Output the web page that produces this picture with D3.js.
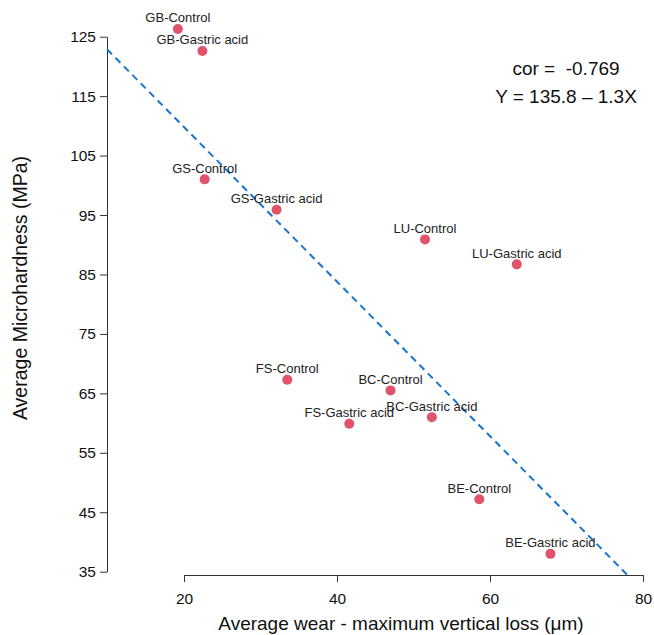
<!DOCTYPE html>
<html>
<head>
<meta charset="utf-8">
<script src="https://cdn.jsdelivr.net/npm/d3@7"></script>
<style>
  body { margin: 0; background: #fff; }
  svg { font-family: "Liberation Sans", Arial, sans-serif; }
</style>
</head>
<body>
<svg id="chart" width="654" height="635"></svg>
<script>
// groups and their measured values
const labels = ['GB-Control', 'GB-Gastric acid', 'GS-Control', 'GS-Gastric acid',
  'LU-Control', 'LU-Gastric acid', 'FS-Control', 'FS-Gastric acid',
  'BC-Control', 'BC-Gastric acid', 'BE-Control', 'BE-Gastric acid']
const wear = [19.2, 22.4, 22.7, 32.1, 51.5, 63.5, 33.5, 41.6, 47.0, 52.4, 58.6, 67.9]
const hardness = [126.3, 122.6, 101.0, 95.9, 90.9, 86.7, 67.3, 59.9, 65.5, 61.0, 47.2, 38.0]

const xTicks = [20, 40, 60, 80]
const yTicks = [35, 45, 55, 65, 75, 85, 95, 105, 115, 125]

const intercept = 135.8
const slope = -1.3
const corText = 'cor =  -0.769'
const eqText = 'Y = 135.8 \u2013 1.3X'

const svg = d3.select('#chart')

const plotLeft = 107
const plotBottom = 575

const x = d3.scaleLinear().domain([20, 80]).range([184, 643])
const y = d3.scaleLinear().domain([35, 125]).range([571.7, 36.7])

// y axis
const yAxis = svg.append('g')
  .attr('transform', `translate(${plotLeft},0)`)
  .call(d3.axisLeft(y).tickValues(yTicks).tickSize(7).tickSizeOuter(0).tickPadding(4))
yAxis.selectAll('text').style('font-size', '15.5px').attr('fill', '#111')

// x axis
const xAxis = svg.append('g')
  .attr('transform', `translate(0,${plotBottom})`)
  .call(d3.axisBottom(x).tickValues(xTicks).tickSize(7).tickSizeOuter(0).tickPadding(11))
xAxis.selectAll('text').style('font-size', '15.5px').attr('fill', '#111')

svg.selectAll('.domain, .tick line').attr('stroke', '#333')

// axis titles
svg.append('text')
  .attr('x', 401)
  .attr('y', 630)
  .attr('text-anchor', 'middle')
  .style('font-size', '19px')
  .attr('fill', '#111')
  .text('Average wear - maximum vertical loss (\u03bcm)')

svg.append('text')
  .attr('transform', 'translate(27,288) rotate(-90)')
  .attr('text-anchor', 'middle')
  .style('font-size', '19.5px')
  .attr('fill', '#111')
  .text('Average Microhardness (MPa)')

// regression line, clipped to the plot region
const x0 = x.invert(plotLeft)
const yEnd = y.invert(plotBottom)
const x1 = (yEnd - intercept) / slope
svg.append('line')
  .attr('x1', x(x0))
  .attr('y1', y(intercept + slope * x0))
  .attr('x2', x(x1))
  .attr('y2', y(yEnd))
  .attr('stroke', '#1874CD')
  .attr('stroke-width', 2)
  .attr('stroke-dasharray', '7,5')

// points
const data = labels.map((d, i) => ({ label: d, wear: wear[i], hardness: hardness[i] }))

svg.selectAll('circle.pt')
  .data(data)
  .join('circle')
  .attr('class', 'pt')
  .attr('cx', d => x(d.wear))
  .attr('cy', d => y(d.hardness))
  .attr('r', 5)
  .attr('fill', '#DF536B')

svg.selectAll('text.lbl')
  .data(data)
  .join('text')
  .attr('class', 'lbl')
  .attr('x', d => x(d.wear))
  .attr('y', d => y(d.hardness) - 6.5)
  .attr('text-anchor', 'middle')
  .style('font-size', '13px')
  .attr('fill', '#222')
  .text(d => d.label)

// annotation
svg.append('text')
  .attr('x', 566)
  .attr('y', 75)
  .attr('text-anchor', 'middle')
  .style('font-size', '19px')
  .style('white-space', 'pre')
  .attr('fill', '#111')
  .text(corText)

svg.append('text')
  .attr('x', 566)
  .attr('y', 103)
  .attr('text-anchor', 'middle')
  .style('font-size', '19px')
  .attr('fill', '#111')
  .text(eqText)
</script>
</body>
</html>
